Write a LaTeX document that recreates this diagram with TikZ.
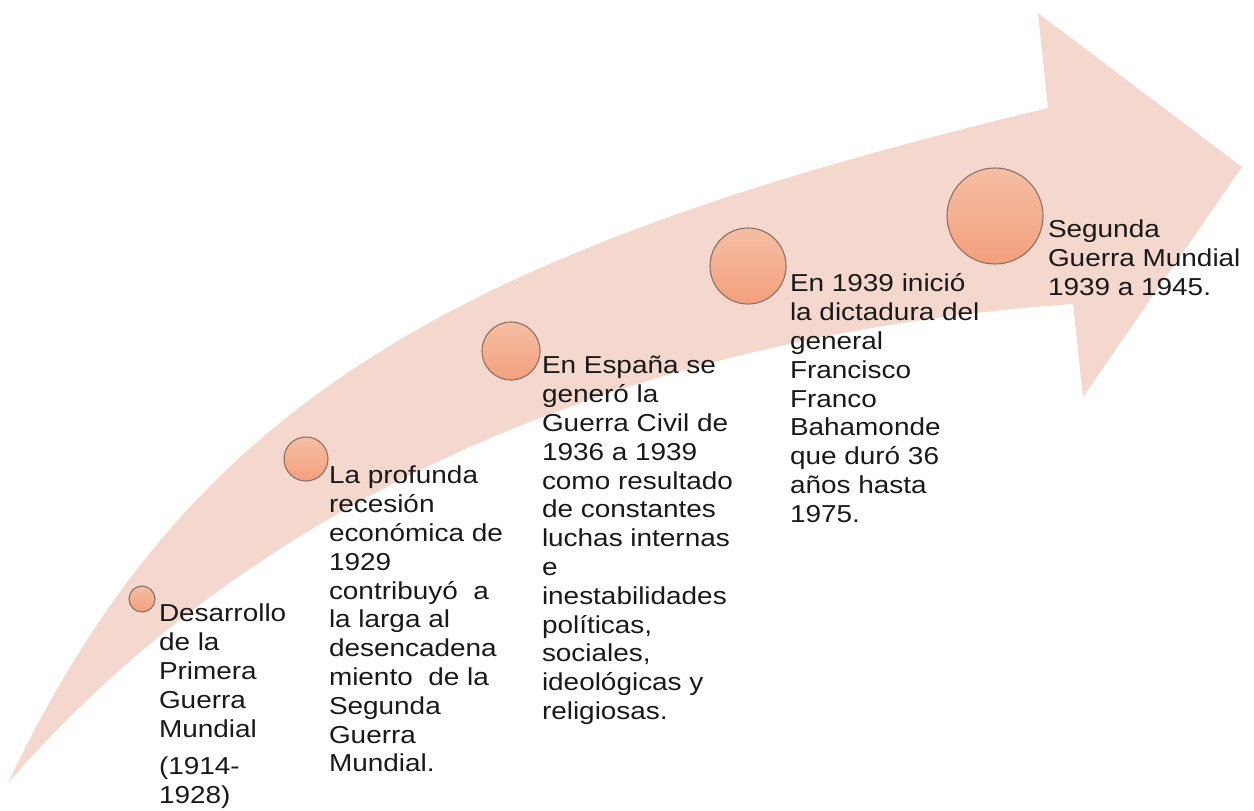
\documentclass[tikz,border=0pt]{standalone}
\usepackage{fontspec}
\newfontfamily\lblfont{Liberation Sans}[FakeStretch=1.14]
\definecolor{arrowfill}{RGB}{245,216,205}
\definecolor{dottop}{RGB}{245,190,164}
\definecolor{dotbot}{RGB}{243,160,124}
\definecolor{dotborder}{RGB}{140,112,102}
\definecolor{textcol}{RGB}{25,25,25}
\begin{document}
\begin{tikzpicture}[x=1pt,y=-1pt,
  tlabel/.style={anchor=north west, inner sep=0pt, outer sep=0pt, align=left,
    font=\lblfont\fontsize{24.5}{28.8}\selectfont, text=textcol},
  dot/.style={circle, draw=dotborder, line width=1.1pt, top color=dottop,
    bottom color=dotbot, inner sep=0pt, minimum size=#1}]
\useasboundingbox (0,0) rectangle (1254,811);
% big curved arrow
\fill[arrowfill]
  (8,783) .. controls (188,405) and (448,252) .. (1048,108)
  -- (1038,13) -- (1242,167) -- (1083,397) -- (1073,304)
  .. controls (673,332) and (278,472.5) .. (8,783)
  -- cycle;
% circles
\node[dot=26pt] (c1) at (142,599) {};
\node[dot=44pt] (c2) at (306,459) {};
\node[dot=58pt] (c3) at (511,351) {};
\node[dot=76pt] (c4) at (748,266) {};
\node[dot=96pt] (c5) at (995,216) {};
% texts
\node[tlabel] (t1) at (159,601.8) {\strut Desarrollo\\de la\\Primera\\Guerra\\Mundial\\[9pt](1914-\\1928)};
\node[tlabel] (t2) at (329,463.8) {\strut La profunda\\recesión\\económica de\\1929\\contribuyó\ \ a\\la larga al\\desencadena\\miento\ \ de la\\Segunda\\Guerra\\Mundial.};
\node[tlabel] (t3) at (542,353.8) {\strut En España se\\generó la\\Guerra Civil de\\1936 a 1939\\como resultado\\de constantes\\luchas internas\\e\\inestabilidades\\políticas,\\sociales,\\ideológicas y\\religiosas.};
\node[tlabel] (t4) at (790,271.8) {\strut En 1939 inició\\la dictadura del\\general\\Francisco\\Franco\\Bahamonde\\que duró 36\\años hasta\\1975.};
\node[tlabel] (t5) at (1048,217.8) {\strut Segunda\\Guerra Mundial\\1939 a 1945.};
\end{tikzpicture}
\end{document}
